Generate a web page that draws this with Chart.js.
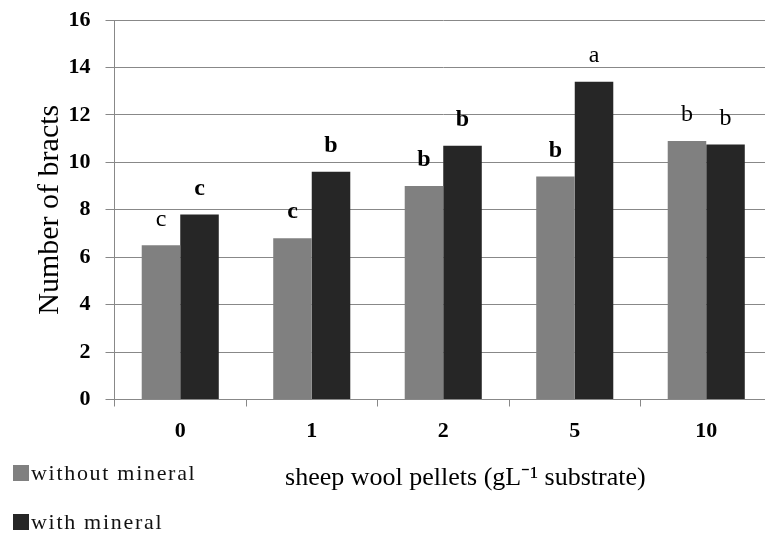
<!DOCTYPE html>
<html lang="en">
<head>
  <meta charset="UTF-8">
  <title>Number of bracts</title>
  <script src="https://cdn.jsdelivr.net/npm/chart.js"></script>
  <style>
    body {
      margin: 0;
      background: #fff;
      overflow: hidden;
      font-family: "Liberation Serif", "Times New Roman", serif;
    }
    .wrap {
      position: relative;
      width: 765px;
      height: 535px;
      overflow: hidden;
    }
    .legend {
      position: absolute;
      left: 13px;
      top: 460px;
    }
    .legend div {
      display: flex;
      align-items: center;
      height: 26px;
      margin-bottom: 23px;
      font-size: 22px;
      letter-spacing: 1.7px;
      color: #111;
    }
    .legend span {
      display: inline-block;
      width: 16px;
      height: 16px;
      margin-right: 2px;
    }
  </style>
</head>
<body>
  <div class="wrap">
    <canvas id="bracts" width="775" height="535"></canvas>
    <div class="legend" id="legend"></div>
  </div>

  <script>
    // values
    const doses = ["0", "1", "2", "5", "10"];
    const withoutMineral = [6.5, 6.8, 9.0, 9.4, 10.9];
    const withMineral = [7.8, 9.6, 10.7, 13.4, 10.75];
    const lettersWithout = ["c", "c", "b", "b", "b"];
    const lettersWith = ["c", "b", "b", "a", "b"];
    const yTicks = [0, 2, 4, 6, 8, 10, 12, 14, 16];

    // which letters look bold in the original
    const boldWithout = [false, true, true, true, false];
    const boldWith = [true, true, true, false, false];

    const serif = '"Liberation Serif", "Times New Roman", serif';

    const letterPlugin = {
      id: "letters",
      afterDatasetsDraw(chart) {
        const ctx = chart.ctx;
        const sets = [[lettersWithout, boldWithout], [lettersWith, boldWith]];
        ctx.save();
        ctx.fillStyle = "#000";
        ctx.textAlign = "center";
        ctx.textBaseline = "middle";
        sets.forEach(([letters, bold], i) => {
          chart.getDatasetMeta(i).data.forEach((bar, j) => {
            ctx.font = (bold[j] ? "bold " : "") + "24px " + serif;
            ctx.fillText(letters[j], bar.x, bar.y - 26);
          });
        });
        ctx.restore();
      }
    };

    const chart = new Chart(document.getElementById("bracts"), {
      type: "bar",
      data: {
        labels: doses,
        datasets: [
          { label: "without mineral", data: withoutMineral, backgroundColor: "#808080" },
          { label: "with mineral", data: withMineral, backgroundColor: "#262626" }
        ]
      },
      options: {
        responsive: false,
        animation: false,
        events: [],
        categoryPercentage: 0.586,
        barPercentage: 1,
        layout: { padding: { left: 0, right: 3, top: 20, bottom: 0 } },
        plugins: {
          legend: { display: false },
          tooltip: { enabled: false }
        },
        scales: {
          x: {
            afterFit(scale) { scale.height = 135.5; },
            grid: {
              drawOnChartArea: false,
              color: "#888",
              tickLength: 7
            },
            border: { color: "#888" },
            ticks: {
              color: "#000",
              padding: 12,
              font: { family: serif, size: 22, weight: "bold" }
            },
            title: {
              display: true,
              // leading spaces nudge the title right, as in the original
              text: "\u2003\u2002\u2009sheep wool pellets (gL⁻¹ substrate)",
              color: "#000",
              padding: { top: 0, bottom: 41 },
              font: { family: serif, size: 26 }
            }
          },
          y: {
            min: 0,
            max: 16,
            afterFit(scale) {
              scale.width = 114.5;
              scale.paddingTop = 0;
              scale.paddingBottom = 0;
            },
            afterBuildTicks(scale) { scale.ticks = yTicks.map(v => ({ value: v })); },
            grid: { color: "#888", tickLength: 9 },
            border: { color: "#888" },
            ticks: {
              color: "#000",
              padding: 15,
              font: { family: serif, size: 22, weight: "bold" }
            },
            title: {
              display: true,
              text: "Number of bracts",
              color: "#000",
              padding: { top: 32, bottom: 0 },
              font: { family: serif, size: 30 }
            }
          }
        }
      },
      plugins: [letterPlugin]
    });

    // legend stacked at lower left, like the original
    const legend = document.getElementById("legend");
    chart.data.datasets.forEach(ds => {
      const row = document.createElement("div");
      row.innerHTML = '<span style="background:' + ds.backgroundColor + '"></span>' + ds.label;
      legend.appendChild(row);
    });
  </script>
</body>
</html>
